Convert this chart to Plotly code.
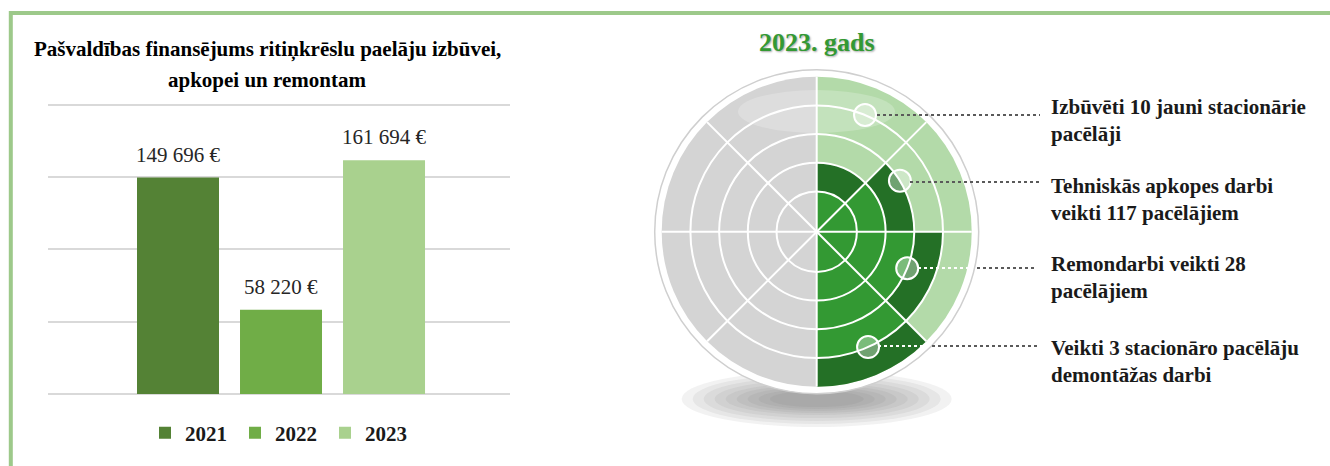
import plotly.graph_objects as go

W, H = 1330, 466

# ---------------- data ----------------
years = ["2021", "2022", "2023"]
funding = [149696, 58220, 161694]
bar_colors = ["#548235", "#70ad47", "#a9d18e"]

title_lines = ["Pašvaldības finansējums ritiņkrēslu paelāju izbūvei,", "apkopei un remontam"]
radar_title = "2023. gads"

sector_theta = [22.5, 67.5, 112.5, 157.5]
gray_theta = [202.5, 247.5, 292.5, 337.5]
ring_levels = [1.4, 2.4, 3.4, 4.4]
outer_level = 5.4
inner_fill = [1.4, 2.4, 3.4, 4.4]       # medium green
dark_fill = [2.4, 3.4, 4.4, 5.4]        # dark green
light_fill = [5.4, 5.4, 5.4, 5.4]       # light green

marker_r = [4.4, 3.4, 3.4, 4.4]
marker_theta = [22.5, 58.5, 112.0, 156.0]

activity_labels = [
    "Izbūvēti 10 jauni stacionārie<br>pacēlāji",
    "Tehniskās apkopes darbi<br>veikti 117 pacēlājiem",
    "Remondarbi veikti 28<br>pacēlājiem",
    "Veikti 3 stacionāro pacēlāju<br>demontāžas darbi",
]

SERIF = "Liberation Serif, Times New Roman, serif"


def px(x):
    return x / W


def py(y):
    return 1 - y / H


fig = go.Figure()
annotations = []

# ---------------- bar chart ----------------
for i, (yr, val, col) in enumerate(zip(years, funding, bar_colors)):
    fig.add_trace(go.Bar(
        x=[yr], y=[val], name=yr, marker=dict(color=col, line=dict(width=0)),
        xaxis="x", yaxis="y", hoverinfo="skip",
    ))
    annotations.append(dict(
        x=i, y=val, xref="x", yref="y", yshift=23, yanchor="middle",
        text=f"{val:,}".replace(",", " ") + " €", showarrow=False,
        font=dict(family=SERIF, size=21, color="#262626"),
    ))

# ---------------- radar-like chart ----------------
fig.add_trace(go.Barpolar(
    r=[outer_level] * 4, theta=gray_theta, width=[45] * 4,
    marker=dict(color="#d4d4d4", line=dict(width=0)), subplot="polar",
    showlegend=False, hoverinfo="skip",
))
fig.add_trace(go.Barpolar(
    r=light_fill, theta=sector_theta, width=[45] * 4,
    marker=dict(color="#b3daa9", line=dict(width=0)), subplot="polar",
    showlegend=False, hoverinfo="skip",
))
fig.add_trace(go.Barpolar(
    r=dark_fill, theta=sector_theta, width=[45] * 4,
    marker=dict(color="#247026", line=dict(width=0)), subplot="polar",
    showlegend=False, hoverinfo="skip",
))
fig.add_trace(go.Barpolar(
    r=inner_fill, theta=sector_theta, width=[45] * 4,
    marker=dict(color="#339933", line=dict(width=0)), subplot="polar",
    showlegend=False, hoverinfo="skip",
))
fig.add_trace(go.Scatterpolar(
    r=marker_r, theta=marker_theta, mode="markers", subplot="polar2",
    marker=dict(size=22, color="rgba(255,255,255,0.35)", line=dict(color="white", width=2)),
    showlegend=False, hoverinfo="skip",
))

cx, cy = 816.7, 231.7
R_out, R_in = 162, 155

# soft shadow under the disc
shapes = []
for hw, hh in [(135, 28), (124, 25), (113, 22), (102, 19), (91, 16), (80, 14),
               (69, 12), (58, 10), (47, 8)]:
    shapes.append(dict(type="circle", xref="paper", yref="paper", layer="below",
                       x0=px(cx - hw), x1=px(cx + hw), y0=py(399 + hh), y1=py(399 - hh),
                       fillcolor="rgba(110,110,110,0.085)", line=dict(width=0)))

# glossy highlight
shapes.append(dict(type="circle", xref="paper", yref="paper", layer="above",
                   x0=px(738), x1=px(895), y0=py(133), y1=py(90),
                   fillcolor="rgba(255,255,255,0.22)", line=dict(width=0)))

# leader lines
leaders = [
    (115, 877, 1040, "#5a5a5a"),
    (182, 910, 1040, "#5a5a5a"),
    (268, 918, 972, "white"),
    (268, 977, 1035, "#5a5a5a"),
    (346, 878, 928, "white"),
    (346, 932, 1040, "#5a5a5a"),
]
for yy, x0, x1, col in leaders:
    shapes.append(dict(type="line", xref="paper", yref="paper", layer="above",
                       x0=px(x0), x1=px(x1), y0=py(yy), y1=py(yy),
                       line=dict(color=col, width=2.2, dash="dot")))

# outer frame
shapes.append(dict(type="rect", xref="paper", yref="paper", layer="above",
                   x0=px(10.8), x1=1.2, y0=-0.3, y1=py(13),
                   line=dict(color="#9dc98a", width=4), fillcolor="rgba(0,0,0,0)"))

for line, yc in zip(title_lines, [49, 80]):
    annotations.append(dict(x=px(267), y=py(yc), xref="paper", yref="paper",
                            text="<b>" + line + "</b>",
                            showarrow=False, xanchor="center", yanchor="middle",
                            font=dict(family=SERIF, size=21, color="#000000")))
annotations.append(dict(x=px(cx), y=py(43), xref="paper", yref="paper",
                        text="<b>" + radar_title + "</b>",
                        showarrow=False, xanchor="center", yanchor="middle",
                        font=dict(family=SERIF, size=26, color="#339933",
                                  shadow="1px 1px 2px rgba(0,0,0,0.35)")))
for lbl, yc in zip(activity_labels, [120, 199, 277.5, 361.5]):
    annotations.append(dict(x=px(1049), y=py(yc), xref="paper", yref="paper",
                            text="<b>" + lbl + "</b>", showarrow=False, align="left",
                            xanchor="left", yanchor="middle",
                            font=dict(family=SERIF, size=21, color="#1a1a1a")))

fig.update_layout(
    width=W, height=H, margin=dict(l=0, r=0, t=0, b=0),
    paper_bgcolor="white", plot_bgcolor="white",
    barmode="overlay", bargap=0.204,
    showlegend=True,
    legend=dict(orientation="h", x=px(280), xanchor="center", y=py(433), yanchor="middle",
                font=dict(family=SERIF, size=21, color="#1a1a1a", weight="bold"),
                entrywidth=45, entrywidthmode="pixels", itemclick=False, itemdoubleclick=False,
                itemwidth=30, bgcolor="rgba(0,0,0,0)"),
    xaxis=dict(domain=[px(48), px(510)], type="category", categoryorder="array",
               categoryarray=years, range=[-1.262, 3.223], showticklabels=False,
               showgrid=False, zeroline=False, showline=False, ticks="", fixedrange=True),
    yaxis=dict(domain=[py(394), py(103.3)], range=[0, 201000], tickvals=[0, 50000, 100000, 150000, 200000],
               showticklabels=False, showgrid=True, gridcolor="#d9d9d9", gridwidth=2,
               zeroline=True, zerolinecolor="#d9d9d9", zerolinewidth=2, ticks="",
               fixedrange=True),
    polar=dict(
        domain=dict(x=[px(cx - R_out), px(cx + R_out)], y=[py(cy + R_out), py(cy - R_out)]),
        bgcolor="white", barmode="overlay",
        radialaxis=dict(range=[0, outer_level * R_out / R_in], visible=False),
        angularaxis=dict(direction="clockwise", rotation=90, showgrid=False,
                         showticklabels=False, ticks="", showline=True,
                         linecolor="#cfcfcf", linewidth=1.5),
    ),
    polar2=dict(
        domain=dict(x=[px(cx - R_in), px(cx + R_in)], y=[py(cy + R_in), py(cy - R_in)]),
        bgcolor="rgba(0,0,0,0)",
        radialaxis=dict(range=[0, outer_level], tickvals=ring_levels, showticklabels=False,
                        ticks="", showline=False, showgrid=True, gridcolor="white",
                        gridwidth=1.6),
        angularaxis=dict(direction="clockwise", rotation=90, tickmode="linear", dtick=45,
                         showgrid=True, gridcolor="white", gridwidth=1.6,
                         showticklabels=False, ticks="", showline=False),
    ),
    shapes=shapes,
    annotations=annotations,
)

fig.write_html("out.html", config={"displayModeBar": False},
               post_script="document.body.style.margin='0';")
